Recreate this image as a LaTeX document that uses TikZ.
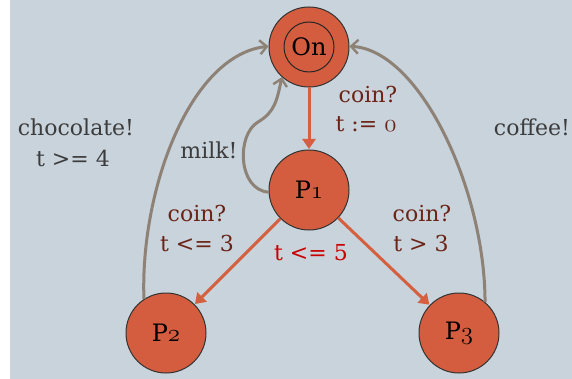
\documentclass[tikz,border=0pt]{standalone}
\usepackage{fontspec}
\setmainfont{DejaVu Serif}
\usetikzlibrary{arrows.meta}
\newcommand\osn[2]{{\fontsize{#1}{#1}\usefont{OML}{cmm}{m}{it}#2}}
\definecolor{bgc}{HTML}{C8D3DC}
\definecolor{nodec}{HTML}{D45D3F}
\definecolor{redge}{HTML}{D4603F}
\definecolor{gedge}{HTML}{8E8176}
\definecolor{lbrown}{HTML}{6B2315}
\definecolor{lgrey}{HTML}{3C3C3C}
\definecolor{inv}{HTML}{C80000}
\tikzset{
  state/.style={circle, draw=black!80, line width=1pt, fill=nodec, minimum size=80pt, inner sep=0pt, font=\fontsize{24}{26}\selectfont},
  redarrow/.style={draw=redge, line width=3pt, -{Triangle[length=10pt,width=13pt]}, shorten >=0.5pt},
  greyarrow/.style={draw=gedge, line width=3pt, -{Straight Barb[length=7pt,width=14pt,line width=2.4pt]}},
  glabel/.style={text=lbrown, font=\fontsize{22}{24}\selectfont, inner sep=0pt},
  tlabel/.style={text=lgrey, font=\fontsize{22}{24}\selectfont, inner sep=0pt},
}
\begin{document}
\begin{tikzpicture}[x=1pt,y=-1pt]
\useasboundingbox (0,0) rectangle (572,379);
\fill[bgc] (10,0) rectangle (572,379);
\node[state] (On) at (309,47) {};
\node[circle, draw=black!85, line width=1pt, minimum size=50pt, inner sep=0pt, font=\fontsize{24}{26}\selectfont] (Oni) at (309,47) {On};
\node[state] (P1) at (309,190) {P\osn{30}{1}};
\node[state] (P2) at (166,333) {P\osn{30}{2}};
\node[state] (P3) at (459,333) {P\osn{30}{3}};
% red transitions
\draw[redarrow] (On) -- (P1);
\draw[redarrow] (P1) -- (P2);
\draw[redarrow] (P1) -- (P3);
% grey transitions
\draw[greyarrow] (P1.183) .. controls (238,190) and (236,135) .. (258,122) .. controls (275,112) and (277,100) .. (On.228);
\draw[greyarrow] (P2.123) .. controls (140,190) and (190,55) .. (On.179);
\draw[greyarrow] (P3.50) .. controls (485,190) and (420,50) .. (On.1);
% labels
\node[glabel] (l1) at (368,94) {coin?};
\node[glabel] (l2) at (366,124) {t := \osn{27}{0}};
\node[glabel] (l3) at (197,213) {coin?};
\node[glabel] (l4) at (197,243) {t <= 3};
\node[glabel] (l5) at (422,213) {coin?};
\node[glabel] (l6) at (421,243) {t > 3};
\node[text=inv, font=\fontsize{22}{24}\selectfont, inner sep=0pt] (l7) at (311,253) {t <= 5};
\node[tlabel] (l8) at (209,150) {milk!};
\node[tlabel] (l9) at (76,127) {chocolate!};
\node[tlabel] (l10) at (73,158) {t >= 4};
\node[tlabel] (l11) at (532,127) {coffee!};
\end{tikzpicture}
\end{document}
